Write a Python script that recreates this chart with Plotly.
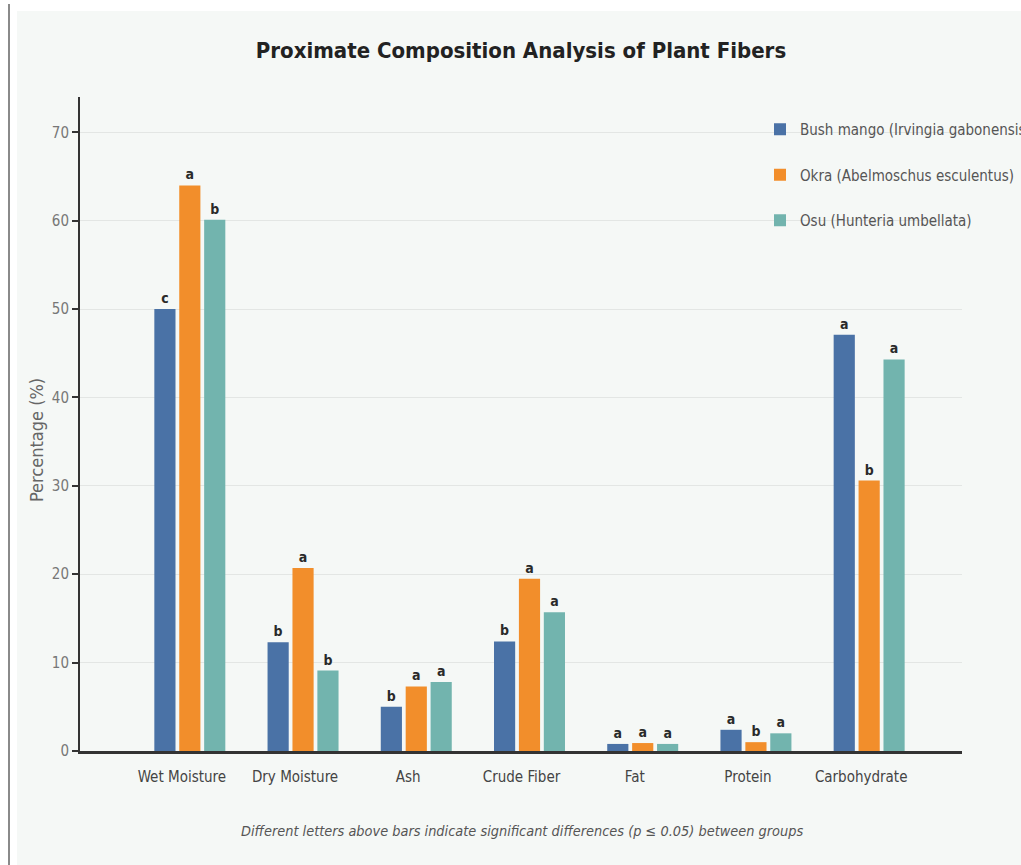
import plotly.graph_objects as go

# Proximate composition (%) of three plant fibres
components = ["Wet Moisture", "Dry Moisture", "Ash", "Crude Fiber", "Fat", "Protein", "Carbohydrate"]

bush_mango = [50.0, 12.3, 5.0, 12.4, 0.8, 2.4, 47.1]
okra = [64.0, 20.7, 7.3, 19.5, 0.9, 1.0, 30.6]
osu = [60.1, 9.1, 7.8, 15.7, 0.8, 2.0, 44.3]

# Significance letters (p <= 0.05) shown above each bar
bush_letters = ["c", "b", "b", "b", "a", "a", "a"]
okra_letters = ["a", "a", "a", "a", "a", "b", "b"]
osu_letters = ["b", "b", "a", "a", "a", "a", "a"]

series = [
    ("Bush mango (Irvingia gabonensis)", bush_mango, bush_letters, "#4a72a6"),
    ("Okra (Abelmoschus esculentus)", okra, okra_letters, "#f28e2b"),
    ("Osu (Hunteria umbellata)", osu, osu_letters, "#72b4ae"),
]

FONT = "DejaVu Sans Condensed, Roboto, sans-serif"

fig = go.Figure()
for i, (name, vals, letters, color) in enumerate(series):
    fig.add_trace(go.Bar(
        name=name,
        x=components,
        y=vals,
        text=letters,
        texttemplate="<b>%{text}</b>",
        textposition="outside",
        textfont=dict(family=FONT, size=14, color="#2a2a2a"),
        cliponaxis=False,
        marker=dict(color=color, line=dict(width=0)),
        legendgroup=f"g{i}",
        hoverinfo="x+y+name",
    ))

# Plot area spans x 80..962 px, y 97..751 px
L, R, T, B = 80, 59, 97, 114
W, H = 1021, 865
pw, ph = W - L - R, H - T - B


def px_x(px):
    return (px - L) / pw


def px_y(py):
    return (H - B - py) / ph


shapes = [
    # light page background
    dict(type="rect", xref="paper", yref="paper", layer="below",
         x0=px_x(17), x1=px_x(W + 2), y0=px_y(H + 2), y1=px_y(11),
         fillcolor="#f5f8f6", line=dict(width=0)),
    # thin frame line on the left edge
    dict(type="line", xref="paper", yref="paper", layer="above",
         x0=px_x(9), x1=px_x(9), y0=px_y(H + 2), y1=px_y(4),
         line=dict(color="#8a8a8a", width=2)),
]

fig.update_layout(
    width=W, height=H,
    margin=dict(l=L, r=R, t=T, b=B, autoexpand=False),
    paper_bgcolor="#ffffff",
    plot_bgcolor="rgba(0,0,0,0)",
    barmode="group",
    bargap=0.34,
    bargroupgap=0.15,
    font=dict(family=FONT, color="#444444"),
    title=dict(
        text="<b>Proximate Composition Analysis of Plant Fibers</b>",
        x=0.5, xref="paper", xanchor="center",
        y=1 - 50 / H, yanchor="middle",
        font=dict(family=FONT, size=22, color="#222222"),
    ),
    xaxis=dict(
        range=[-0.97, 6.82],
        showline=True, linecolor="#333333", linewidth=3,
        showgrid=False, ticks="",
        ticklabelshift=-8, ticklabelstandoff=10,
        tickfont=dict(family=FONT, size=15, color="#444444"),
    ),
    yaxis=dict(
        range=[0, 74],
        tickvals=[0, 10, 20, 30, 40, 50, 60, 70],
        showline=True, linecolor="#333333", linewidth=2,
        ticks="outside", ticklen=6, tickwidth=2, tickcolor="#333333",
        showgrid=True, gridcolor="#e3e6e4", gridwidth=1,
        zeroline=False,
        tickfont=dict(family=FONT, size=15, color="#777777"),
    ),
    legend=dict(
        x=px_x(760), y=px_y(113), xanchor="left", yanchor="top",
        bgcolor="rgba(0,0,0,0)",
        font=dict(family=FONT, size=15, color="#555555"),
        traceorder="grouped", tracegroupgap=23,
        itemwidth=30,
    ),
    annotations=[
        dict(
            text="Percentage (%)", textangle=-90,
            xref="paper", yref="paper", x=px_x(37), y=px_y(440),
            xanchor="center", yanchor="middle", showarrow=False,
            font=dict(family=FONT, size=18, color="#666666"),
        ),
        dict(
            text="<i>Different letters above bars indicate significant differences (p \u2264 0.05) between groups</i>",
            xref="paper", yref="paper", x=px_x(522), y=px_y(831),
            xanchor="center", yanchor="middle", showarrow=False,
            font=dict(family=FONT, size=14.4, color="#555555"),
        ),
    ],
    shapes=shapes,
)

fig.write_html("out.html")
